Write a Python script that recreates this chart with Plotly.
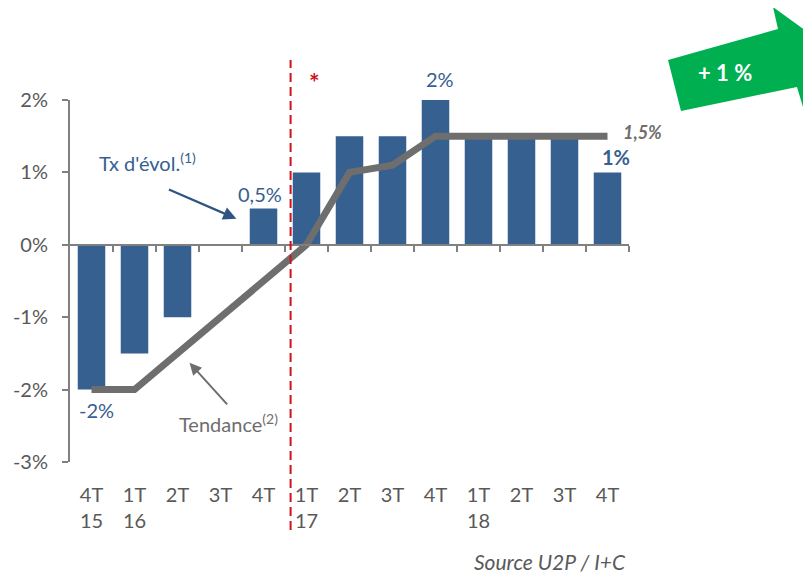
import plotly.graph_objects as go

categories = ["4T<br>15", "1T<br>16", "2T", "3T", "4T", "1T<br>17", "2T", "3T", "4T",
              "1T<br>18", "2T", "3T", "4T"]
evolution = [-2, -1.5, -1, 0, 0.5, 1, 1.5, 1.5, 2, 1.5, 1.5, 1.5, 1]
trend = [-2, -2, -1.5, -1, -0.5, 0, 1.0, 1.1, 1.5, 1.5, 1.5, 1.5, 1.5]
ytick_vals = [-3, -2, -1, 0, 1, 2]
ytick_text = ["-3%", "-2%", "-1%", "0%", "1%", "2%"]

OFF = 8  # page body margin
W, H = 811 - OFF, 573 - OFF
L, T = 70 - OFF, 100 - OFF
R, B = W - (629 - OFF), H - (462 - OFF)
PW, PH = W - L - R, H - T - B

def px(xp, yp):
    return (xp - OFF - L) / PW, (H - B - (yp - OFF)) / PH

idx = list(range(len(categories)))
BLUE = "#36608f"
GRAY = "#6e6e6e"
AXC = "#808080"
FONT = "Lato"

fig = go.Figure()
fig.add_trace(go.Bar(x=idx, y=evolution, marker=dict(color=BLUE, line=dict(width=0)),
                     width=0.64, hoverinfo="skip"))
fig.add_trace(go.Scatter(x=idx, y=trend, mode="lines",
                         line=dict(color=GRAY, width=7), hoverinfo="skip"))
fig.add_trace(go.Scatter(x=idx, y=[None] * len(idx), xaxis="x2", mode="lines",
                         hoverinfo="skip", showlegend=False))

pts = [(668, 60), (778, 29), (773, 7), (835, 52), (803, 107), (797, 87), (681, 111)]
path = "M " + " L ".join(f"{px(a, b)[0]:.4f},{px(a, b)[1]:.4f}" for a, b in pts) + " Z"
fig.add_shape(type="path", path=path, xref="paper", yref="paper",
              fillcolor="#00b050", line=dict(width=0), layer="above")

fig.add_shape(type="line", x0=4.63, x1=4.63, y0=px(0, 530)[1], y1=px(0, 60)[1],
              xref="x", yref="paper",
              line=dict(color="#d0121b", width=2, dash="9px,5px"), layer="above")

ann = []
def A(x, y, text, **kw):
    d = dict(x=x, y=y, text=text, showarrow=False)
    d.update(kw)
    ann.append(d)

blue_font = dict(family=FONT, size=20, color=BLUE)
A(0, -2, "-2%", yanchor="top", yshift=-6, xshift=5, font=blue_font)
A(4, 0.5, "0,5%", yanchor="bottom", yshift=1, xshift=-4, font=blue_font)
A(8, 2, "2%", yanchor="bottom", yshift=7, xshift=4, font=blue_font)
A(12, 1, "<b>1%</b>", yanchor="bottom", yshift=1, xshift=8, font=blue_font)
A(12, 1.5, "<b><i>1,5%</i></b>", xanchor="left", xshift=13, yshift=4,
  font=dict(family=FONT, size=18, color=GRAY))
kx, ky = px(314, 82)
A(kx, ky, "<b>*</b>", xref="paper", yref="paper", xanchor="center", yanchor="middle",
  font=dict(family=FONT, size=25, color="#d0121b"))
gx, gy = px(725, 73)
A(gx, gy, "<b>+ 1 %</b>", xref="paper", yref="paper", xanchor="center", yanchor="middle",
  font=dict(family=FONT, size=22, color="white"))
sx, sy = px(550, 561)
A(sx, sy, "<i>Source U2P / I+C</i>", xref="paper", yref="paper", xanchor="center",
  yanchor="middle", font=dict(family=FONT, size=21, color="#595959"))
tx, ty = px(147, 162)
A(tx, ty, "Tx d'évol.<sup>(1)</sup>", xref="paper", yref="paper", xanchor="center",
  yanchor="middle", font=dict(family=FONT, size=20, color=BLUE))
dx, dy = px(228, 423)
A(dx, dy, "Tendance<sup>(2)</sup>", xref="paper", yref="paper", xanchor="center",
  yanchor="middle", font=dict(family=FONT, size=20, color=GRAY))

ann.append(dict(x=3.37, y=0.36, ax=-69, ay=-30, text="", showarrow=True, arrowhead=2,
                arrowsize=1.2, arrowwidth=2.2, arrowcolor="#2f5583"))
ann.append(dict(x=2.28, y=-1.63, ax=39, ay=43, text="", showarrow=True, arrowhead=2,
                arrowsize=1.2, arrowwidth=2, arrowcolor=GRAY))

fig.update_layout(
    width=W, height=H, margin=dict(l=L, r=R, t=T, b=B, autoexpand=False),
    plot_bgcolor="white", paper_bgcolor="white", showlegend=False,
    font=dict(family=FONT, size=20, color="#595959"),
    annotations=ann,
    xaxis=dict(range=[-0.5, 12.5], tickvals=idx, ticktext=categories, showline=False,
               showgrid=False, zeroline=False, ticks="", ticklabelstandoff=19,
               automargin=False, tickfont=dict(family=FONT, size=20, color="#595959")),
    xaxis2=dict(range=[-0.5, 12.5], overlaying="x", anchor="free", position=0.6,
                side="bottom", showline=True, linecolor=AXC, linewidth=2,
                tickvals=[i + 0.5 for i in idx], ticks="outside", ticklen=6,
                tickwidth=2, tickcolor=AXC, showticklabels=False, showgrid=False,
                zeroline=False, automargin=False),
    yaxis=dict(range=[-3, 2], tickvals=ytick_vals, ticktext=ytick_text, showgrid=False,
               zeroline=False, showline=True, linecolor=AXC, linewidth=2,
               ticks="outside", ticklen=6, tickwidth=2, tickcolor=AXC, automargin=False,
               ticklabelstandoff=10, tickfont=dict(family=FONT, size=20, color="#595959")),
)

fig.write_html("out.html")
